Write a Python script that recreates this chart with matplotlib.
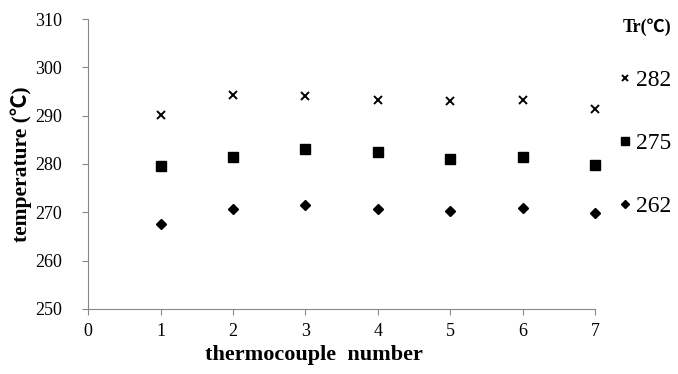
import matplotlib
matplotlib.use('Agg')
import matplotlib.pyplot as plt

# thermocouple positions and measured temperatures for each Tr
thermocouples = [1, 2, 3, 4, 5, 6, 7]
tr_282 = [290.1, 294.3, 294.0, 293.2, 293.1, 293.3, 291.3]
tr_275 = [279.5, 281.5, 283.1, 282.4, 281.1, 281.5, 279.7]
tr_262 = [267.5, 270.6, 271.5, 270.6, 270.3, 270.8, 269.9]
labels = ['282', '275', '262']
y_ticks = [250, 260, 270, 280, 290, 300, 310]
x_ticks = [0, 1, 2, 3, 4, 5, 6, 7]

fonts = ['Liberation Serif', 'Noto Sans CJK SC', 'DejaVu Sans']
plt.rcParams['font.family'] = fonts

fig = plt.figure(figsize=(6.78, 3.74), dpi=100)
ax = fig.add_axes([0.13, 0.174, 0.748, 0.775])

ax.plot(thermocouples, tr_282, linestyle='none', marker='x', color='black',
        markersize=6, markeredgewidth=1.4, label=labels[0], clip_on=False)
ax.plot(thermocouples, tr_275, linestyle='none', marker='s', color='black',
        markersize=7.5, label=labels[1], clip_on=False)
ax.plot(thermocouples, tr_262, linestyle='none', marker='D', color='black',
        markersize=5.5, label=labels[2], clip_on=False)

ax.set_xlim(0, 7)
ax.set_ylim(250, 310)
ax.set_xticks(x_ticks)
ax.set_yticks(y_ticks)
ax.tick_params(labelsize=13, color='#888888', length=4, width=0.8)
ax.tick_params(axis='x', pad=6)
ax.tick_params(axis='y', pad=15)
for side in ['top', 'right']:
    ax.spines[side].set_visible(False)
for side in ['left', 'bottom']:
    ax.spines[side].set_color('#888888')
    ax.spines[side].set_linewidth(0.8)

ax.set_xlabel('thermocouple  number', fontsize=16, fontweight='bold')
ax.xaxis.set_label_coords(0.446, -0.125)
ax.set_ylabel('temperature (℃)', fontsize=15.5, fontweight='bold')
ax.yaxis.set_label_coords(-0.11, 0.5)

leg = ax.legend(loc='upper left', bbox_to_anchor=(1.02, 1.05), frameon=False,
                title='Tr(℃)', fontsize=17, labelspacing=1.75,
                handlelength=0.5, handletextpad=0.2, markerscale=0.75,
                borderaxespad=0.2)
leg.get_title().set_fontweight('bold')
leg.get_title().set_fontsize(13)
leg._legend_box.align = 'right'
leg._legend_box.sep = 24

fig.savefig('out.png', dpi=100)
